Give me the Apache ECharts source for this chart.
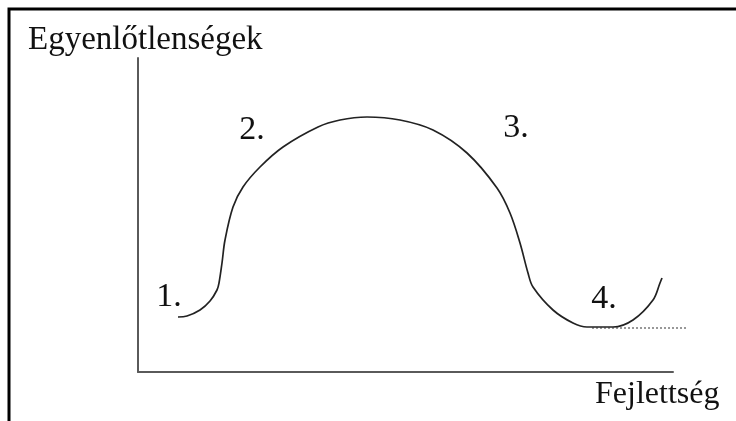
<!DOCTYPE html>
<html>
<head>
<meta charset="utf-8">
<script src="https://cdn.jsdelivr.net/npm/echarts@6/dist/echarts.min.js"></script>
<style>
    html, body { margin: 0; padding: 0; background: #fff; }
    #chart { width: 736px; height: 421px; }
</style>
</head>
<body>
<div id="chart"></div>
<script>
// curve (x = development, y = inequality)
const curveX = [40, 49, 62, 72, 79, 81, 84, 87, 95, 105, 122, 145, 180, 202, 229, 262, 295, 329, 359, 372, 382, 390, 395, 415, 435, 449, 475, 495, 515, 522, 524]
const curveY = [55, 56, 62, 71, 82, 89, 109, 132, 165, 185, 205, 225, 245, 252, 255, 252, 242, 219, 184, 159, 129, 99, 85, 62, 49, 45, 45, 52, 72, 89, 94]
// dotted baseline at the bottom of stage 4 (runs past the end of the axis)
const baseX = [454, 550]
const baseY = [44, 44]
// stage labels
const stageNames = ['1.', '2.', '3.', '4.']
const stageX = [31, 114, 378, 466]
const stageY = [75, 242, 244, 73]

const yTitle = 'Egyenlőtlenségek'
const xTitle = 'Fejlettség'

const serif = '"Liberation Serif", "DejaVu Serif", serif'
const axisColor = '#5a5a5a'
const ink = '#111'

let dom = echarts.init(document.getElementById('chart'))

const hiddenAxis = {
    type: 'value',
    min: 0,
    show: false
}

let option = {
    animation: false,
    backgroundColor: '#fff',
    grid: [
        { left: 138, top: 58, right: 63, bottom: 49 },
        // same scale, wider box so the dotted line can go past the x axis end
        { left: 138, top: 58, right: 48, bottom: 49 }
    ],
    xAxis: [
        {
            type: 'value',
            min: 0,
            max: 535,
            splitLine: { show: false },
            axisTick: { show: false },
            axisLabel: { show: false },
            axisLine: { show: true, lineStyle: { color: axisColor, width: 2 } }
        },
        Object.assign({ gridIndex: 1, max: 550 }, hiddenAxis)
    ],
    yAxis: [
        {
            type: 'value',
            min: 0,
            max: 314,
            splitLine: { show: false },
            axisTick: { show: false },
            axisLabel: { show: false },
            axisLine: { show: true, lineStyle: { color: axisColor, width: 2 } }
        },
        Object.assign({ gridIndex: 1, max: 314 }, hiddenAxis)
    ],
    graphic: [
        {
            type: 'rect',
            shape: { x: 9, y: 9, width: 1000, height: 1000 },
            style: { fill: 'none', stroke: '#000', lineWidth: 3 }
        },
        {
            type: 'text',
            x: 28,
            y: 40,
            style: { text: yTitle, font: '33px ' + serif, fill: ink, verticalAlign: 'middle' }
        },
        {
            type: 'text',
            x: 595,
            y: 395,
            style: { text: xTitle, font: '32px ' + serif, fill: ink, verticalAlign: 'middle' }
        }
    ],
    series: [
        {
            type: 'line',
            data: curveX.map((x, i) => [x, curveY[i]]),
            smooth: 0.35,
            symbol: 'none',
            clip: false,
            lineStyle: { color: '#222', width: 1.7 }
        },
        {
            type: 'line',
            xAxisIndex: 1,
            yAxisIndex: 1,
            data: baseX.map((x, i) => [x, baseY[i]]),
            symbol: 'none',
            lineStyle: { color: '#333', width: 1, type: [2, 2] }
        },
        {
            type: 'scatter',
            symbolSize: 0,
            itemStyle: { color: ink, opacity: 1 },
            data: stageX.map((x, i) => ({ value: [x, stageY[i]], name: stageNames[i] })),
            label: {
                show: true,
                position: 'inside',
                formatter: (p) => p.name,
                fontFamily: serif,
                fontSize: 34,
                color: ink,
                opacity: 1,
                textBorderWidth: 0
            }
        }
    ]
}
dom.setOption(option)
</script>
</body>
</html>
